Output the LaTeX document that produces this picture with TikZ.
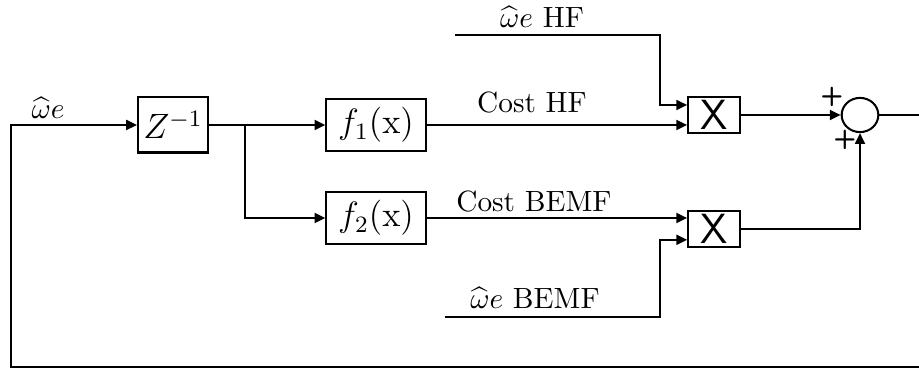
\documentclass[tikz,border=0pt]{standalone}
\usepackage{amsmath,amssymb}
\usetikzlibrary{arrows.meta,positioning,shapes.geometric}
\tikzset{
  blokk/.style={draw,line width=0.7pt,inner sep=0pt,minimum width=11.9mm,minimum height=6.3mm},
  kesl/.style={draw,line width=0.7pt,inner sep=0pt,minimum width=8.4mm,minimum height=6.6mm},
  szorzo/.style={draw,line width=0.7pt,inner sep=0pt,minimum width=6.2mm,minimum height=4.3mm,
                 font=\sffamily\Large},
  osszeg/.style={draw,ellipse,line width=0.7pt,inner sep=0pt,minimum width=4.4mm,minimum height=4.1mm},
  nyil/.style={-{Triangle[length=1.3mm,width=1.2mm]},line width=0.7pt},
  vonal/.style={line width=0.7pt},
  cimke/.style={inner sep=1pt},
  elojel/.style={inner sep=0pt,font=\sffamily\bfseries\small},
}

\begin{document}
\begin{tikzpicture}[x=0.012cm,y=-0.012cm]
  \useasboundingbox (0,0) rectangle (919,369);
  % blokkok
  \node[kesl] (z) at (173,125) {\large$Z^{-1}$};
  \node[blokk] (f1) at (376,125) {\large$f_1(\mathrm{x})$};
  \node[blokk] (f2) at (376,218) {\large$f_2(\mathrm{x})$};
  \node[szorzo] (x1) at (714,115) {X};
  \node[szorzo] (x2) at (714,229) {X};
  \node[osszeg] (sum) at (860,115) {};
  % szabad vegek
  \coordinate (ag) at (245,125);
  \coordinate (hf) at (455,35);
  \coordinate (bemf) at (445,317);
  \coordinate (ki) at (919,115);
  \coordinate (lentj) at (919,367);
  \coordinate (lentb) at (11,367);
  % cimkek
  \node[cimke] (we) at (48,108) {$\widehat{\omega}e$};
  \node[cimke] (lhf) at (542,17) {$\widehat{\omega}e$ HF};
  \node[cimke] (chf) at (532,103) {Cost HF};
  \node[cimke] (cbemf) at (534,201) {Cost BEMF};
  \node[cimke] (lbemf) at (535,298) {$\widehat{\omega}e$ BEMF};
  \node[elojel] (p1) at (832,97) {+};
  \node[elojel] (p2) at (845,140) {+};
  % osszekotesek
  \draw[nyil] (lentj) -- (lentb) |- (z);
  \draw[nyil] (z) -- (f1);
  \draw[nyil] (ag) |- (f2);
  \draw[nyil] (f1.east) -- (f1.east -| x1.west);
  \draw[nyil] (f2.east) -- (f2.east -| x2.west);
  \draw[nyil] (hf) -| ([xshift=-3.3mm,yshift=1.2mm]x1.west) -- ([yshift=1.2mm]x1.west);
  \draw[nyil] (bemf) -| ([xshift=-3.3mm,yshift=-1.3mm]x2.west) -- ([yshift=-1.3mm]x2.west);
  \draw[nyil] (x1) -- (sum);
  \draw[nyil] (x2) -| (sum.south);
  \draw[vonal] (sum) -- (ki);
\end{tikzpicture}
\end{document}
